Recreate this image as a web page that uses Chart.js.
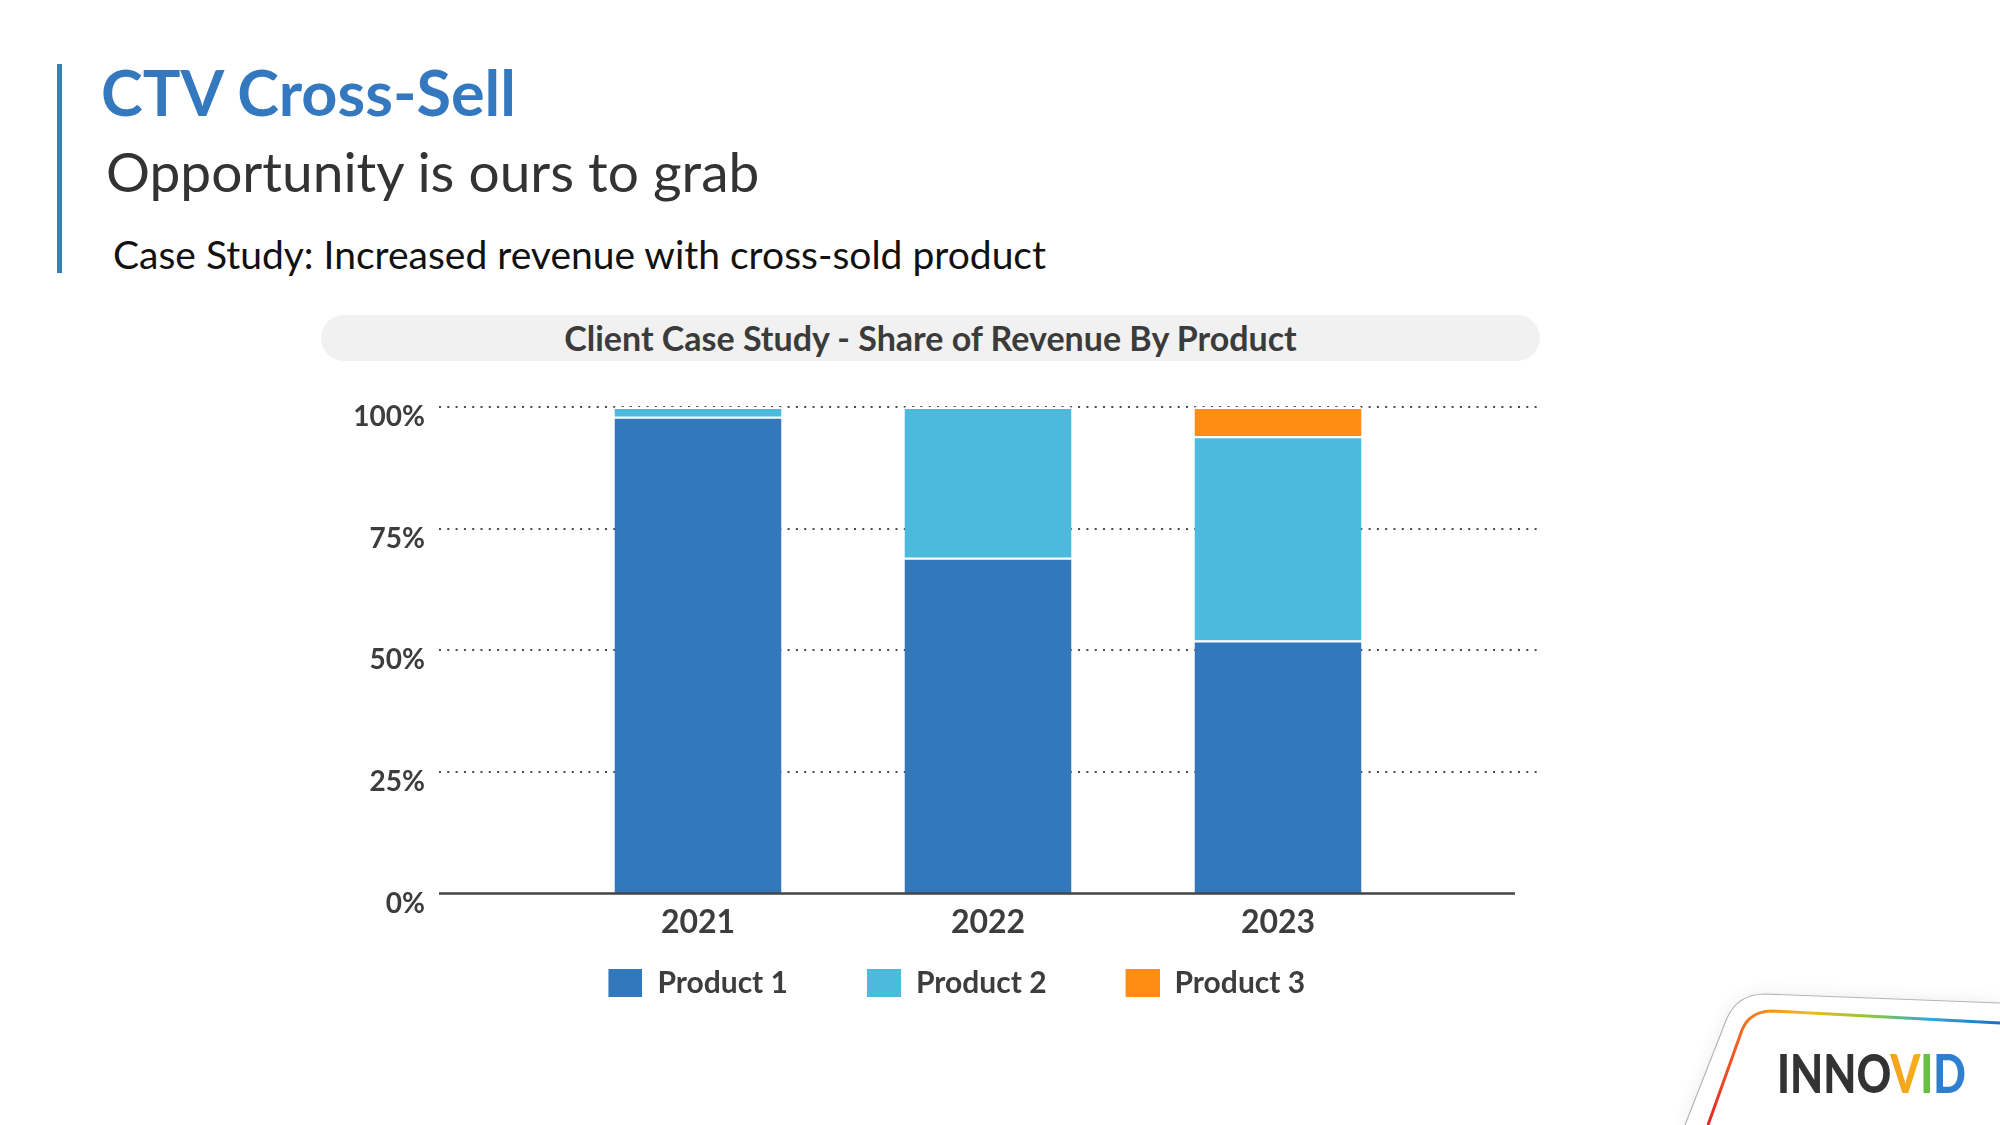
<!DOCTYPE html>
<html>
<head>
<meta charset="utf-8">
<script src="https://cdn.jsdelivr.net/npm/chart.js@4.4.1/dist/chart.umd.min.js"></script>
<style>
	html, body { margin: 0; padding: 0; background: #fff; }
	#slide { position: relative; width: 2000px; height: 1125px; overflow: hidden; font-family: Lato, 'Noto Sans', sans-serif; }
	.accent { position: absolute; left: 57px; top: 64px; width: 5px; height: 209px; background: #3a7cc3; }
	.t { position: absolute; white-space: nowrap; line-height: 1; }
	.h1 { left: 101px; top: 60px; font-size: 63px; font-weight: 700; color: #3478c0; }
	.h2 { left: 106px; top: 144px; font-size: 55px; font-weight: 400; color: #333; }
	.h3 { left: 113px; top: 235px; font-size: 39px; font-weight: 400; color: #111; }
	.band { position: absolute; left: 321px; top: 315px; width: 1219px; height: 46px; border-radius: 23px; background: #f1f1f1;
		text-align: center; line-height: 46px; font-size: 34px; font-weight: 700; color: #3b3b3b; }
	#chart-box { position: absolute; left: 320px; top: 370px; width: 1280px; height: 638px; }
	#logo { position: absolute; left: 0; top: 0; }
</style>
</head>
<body>
<div id="slide">
	<div class="accent"></div>
	<div class="t h1">CTV Cross-Sell</div>
	<div class="t h2">Opportunity is ours to grab</div>
	<div class="t h3">Case Study: Increased revenue with cross-sold product</div>
	<div class="band">Client Case Study - Share of Revenue By Product</div>
	<div id="chart-box"><canvas id="share-chart"></canvas></div>
	<svg id="logo" width="2000" height="1125" viewBox="0 0 2000 1125">
		<defs>
			<filter id="soft" x="-20%" y="-20%" width="140%" height="140%">
				<feGaussianBlur stdDeviation="9"/>
			</filter>
			<linearGradient id="rainbow" gradientUnits="userSpaceOnUse" x1="1708" y1="1125" x2="2000" y2="1023">
				<stop offset="0" stop-color="#e5262b"/>
				<stop offset="0.22" stop-color="#f37021"/>
				<stop offset="0.42" stop-color="#f6b81a"/>
				<stop offset="0.62" stop-color="#8cc63f"/>
				<stop offset="0.8" stop-color="#2aa7dc"/>
				<stop offset="1" stop-color="#1b6fc0"/>
			</linearGradient>
			<linearGradient id="vgrad" x1="0" y1="0" x2="1" y2="0">
				<stop offset="0" stop-color="#e5262b"/>
				<stop offset="0.5" stop-color="#f39a1e"/>
				<stop offset="1" stop-color="#f6c21a"/>
			</linearGradient>
		</defs>
		<path d="M1685 1125 L1727 1018 Q1738 994 1765 994 L2000 1003 L2000 1125 Z" fill="#000" opacity="0.08" filter="url(#soft)"/>
		<path d="M1685 1125 L1727 1018 Q1738 994 1765 994 L2000 1003 L2000 1125 Z" fill="#fff"/>
		<path d="M1685 1125 L1727 1018 Q1738 994 1765 994 L2000 1003" fill="none" stroke="#b5b5b5" stroke-width="1.2"/>
		<path d="M1708 1125 L1742 1030 Q1750 1011 1772 1011 L2000 1023" fill="none" stroke="url(#rainbow)" stroke-width="3"/>
		<text x="1777" y="1093" font-family="Lato" font-weight="900" font-size="54" textLength="189" lengthAdjust="spacingAndGlyphs"><tspan fill="#333">INNO</tspan><tspan fill="url(#vgrad)">V</tspan><tspan fill="#6cbf45">I</tspan><tspan fill="#2f7fd0">D</tspan></text>
	</svg>
</div>
<script>
// Share of revenue, percent of each year's total
const years = [ '2021', '2022', '2023' ];
const product1 = [ 98, 69, 52 ];
const product2 = [ 2, 31, 42 ];
const product3 = [ 0, 0, 6 ];
const seriesNames = [ 'Product 1', 'Product 2', 'Product 3' ];
const seriesColors = [ '#3478bc', '#4bbadd', '#ff8c14' ];

const ink = '#3d3d3d';
const yFont = { family: 'Lato', weight: 'bold', size: 28 };

// widest y label, so the mirrored labels can sit right-aligned left of the plot
const measure = document.createElement( 'canvas' ).getContext( '2d' );
measure.font = `bold ${ yFont.size }px Lato`;
const widestY = measure.measureText( '100%' ).width;

// legend swatch: blank lead-in then the colour square (gives wider gaps between items)
const swatchLead = 62;
const swatches = seriesColors.map( ( color ) => {
	const c = document.createElement( 'canvas' );
	c.width = swatchLead + 34;
	c.height = 28;
	const g = c.getContext( '2d' );
	g.fillStyle = color;
	g.fillRect( swatchLead, 0, 34, 28 );
	return c;
} );

// Dotted guide lines and the base line, run a little wider than the plot like the slide.
const guides = {
	id: 'guides',
	beforeDatasetsDraw( chart ) {
		const { ctx, chartArea, scales: { y } } = chart;
		ctx.save();
		ctx.strokeStyle = '#4a4a4a';
		ctx.lineWidth = 2;
		ctx.setLineDash( [ 2, 6.3 ] );
		y.ticks.forEach( ( tick ) => {
			if ( tick.value === 0 ) {
				return;
			}
			const py = Math.round( y.getPixelForValue( tick.value ) );
			ctx.beginPath();
			ctx.moveTo( chartArea.left - 114, py );
			ctx.lineTo( chartArea.right + 117, py );
			ctx.stroke();
		} );
		ctx.restore();
	},
	afterDatasetsDraw( chart ) {
		const { ctx, chartArea, scales: { y } } = chart;
		const py = y.getPixelForValue( 0 );
		ctx.save();
		ctx.strokeStyle = '#444';
		ctx.lineWidth = 2.5;
		ctx.beginPath();
		ctx.moveTo( chartArea.left - 114, py );
		ctx.lineTo( chartArea.right + 92, py );
		ctx.stroke();
		ctx.restore();
	},
};

const datasets = [ product1, product2, product3 ].map( ( values, i ) => {
	return {
		label: seriesNames[ i ],
		data: values,
		backgroundColor: seriesColors[ i ],
		borderColor: '#ffffff',
		borderWidth: { top: 2, right: 0, bottom: 0, left: 0 },
		barPercentage: 0.576,
		categoryPercentage: 1,
	};
} );

new Chart( document.getElementById( 'share-chart' ), {
	type: 'bar',
	data: {
		labels: years,
		datasets: datasets,
	},
	options: {
		responsive: true,
		maintainAspectRatio: false,
		animation: false,
		layout: {
			autoPadding: false,
			padding: { left: 108.5, right: 177, top: 37, bottom: 0 },
		},
		scales: {
			x: {
				stacked: true,
				grid: { display: false, drawTicks: false },
				border: { display: false },
				ticks: {
					padding: 9.5,
					color: ink,
					font: { family: 'Lato', weight: 'bold', size: 32 },
				},
			},
			y: {
				stacked: true,
				min: 0,
				max: 100,
				grid: { display: false, drawTicks: false },
				border: { display: false },
				ticks: {
					stepSize: 25,
					mirror: true,
					crossAlign: 'far',
					padding: -128 - widestY,
					labelOffset: 10,
					color: ink,
					font: yFont,
					callback: ( v ) => v + '%',
				},
				afterFit: ( scale ) => {
					scale.width = 124.5;
				},
			},
		},
		plugins: {
			legend: {
				position: 'bottom',
				labels: {
					usePointStyle: true,
					pointStyleWidth: swatchLead + 34,
					boxHeight: 28,
					padding: 17,
					color: ink,
					font: { family: 'Lato', weight: 'bold', size: 30 },
					generateLabels: ( chart ) => Chart.defaults.plugins.legend.labels.generateLabels( chart ).map( ( item, i ) => {
						return { ...item, pointStyle: swatches[ i ] };
					} ),
				},
			},
			tooltip: { enabled: false },
		},
	},
	plugins: [ guides ],
} );
</script>
</body>
</html>
